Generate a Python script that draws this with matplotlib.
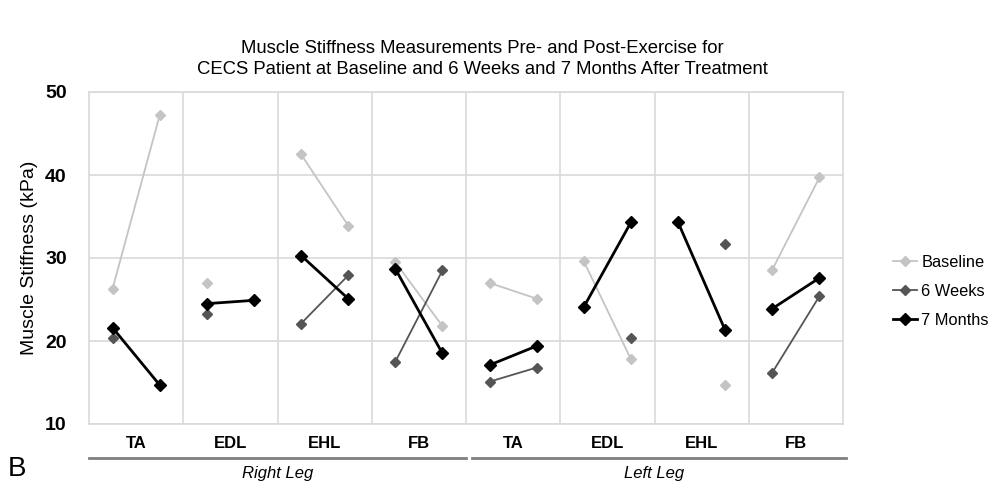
import numpy as np
import matplotlib
matplotlib.use("Agg")
import matplotlib.pyplot as plt

plt.rcParams["font.family"] = ["Liberation Sans", "DejaVu Sans"]

muscles = ["TA", "EDL", "EHL", "FB", "TA", "EDL", "EHL", "FB"]
legs = ["Right Leg", "Left Leg"]
nan = np.nan

# pre / post exercise values per muscle (kPa)
baseline_pre = [26.3, 27.0, 42.5, 29.5, 27.0, 29.6, nan, 28.6]
baseline_post = [47.2, nan, 33.9, 21.8, 25.1, 17.8, 14.7, 39.7]
weeks6_pre = [20.4, 23.3, 22.1, 17.5, 15.1, nan, nan, 16.2]
weeks6_post = [nan, nan, 27.9, 28.5, 16.8, 20.4, 31.7, 25.4]
months7_pre = [21.6, 24.5, 30.3, 28.7, 17.1, 24.1, 34.3, 23.9]
months7_post = [14.7, 24.9, 25.1, 18.5, 19.4, 34.3, 21.3, 27.6]

series = [
    ("Baseline", baseline_pre, baseline_post, "#c4c4c4", 1.3, 5),
    ("6 Weeks", weeks6_pre, weeks6_post, "#555555", 1.3, 5),
    ("7 Months", months7_pre, months7_post, "#000000", 2.0, 6.5),
]

fig = plt.figure(figsize=(9.9, 4.82), dpi=100)
ax = fig.add_axes([89 / 990, 58 / 482, 754 / 990, 332 / 482])

for name, pre, post, color, lw, ms in series:
    for i in range(len(muscles)):
        ax.plot([i + 0.25, i + 0.75], [pre[i], post[i]], color=color, lw=lw,
                marker="D", ms=ms, zorder=3)
    ax.plot([], [], color=color, lw=lw, marker="D", ms=ms, label=name)

ax.set_xlim(0, 8)
ax.set_ylim(10, 50)
ax.set_yticks([10, 20, 30, 40, 50])
ax.set_xticks(np.arange(8) + 0.5)
ax.set_xticklabels(muscles, fontsize=12, fontweight="bold")
for x in range(1, 8):
    ax.axvline(x, color="#d9d9d9", lw=1.2, zorder=1)
ax.grid(axis="y", color="#d9d9d9", lw=1.2, zorder=1)
for s in ax.spines.values():
    s.set_color("#d9d9d9")
    s.set_linewidth(1.2)
ax.tick_params(axis="both", length=0, pad=9)
ax.tick_params(axis="y", labelsize=14, pad=16)
for t in ax.get_yticklabels():
    t.set_fontweight("bold")
ax.set_ylabel("Muscle Stiffness (kPa)", fontsize=14, labelpad=5)

# leg grouping lines and labels
trans = ax.get_xaxis_transform()
ax.plot([0, 4.0], [-0.102, -0.102], transform=trans, color="#808080", lw=2, clip_on=False)
ax.plot([4.06, 8.03], [-0.102, -0.102], transform=trans, color="#808080", lw=2, clip_on=False)
ax.text(2, -0.15, legs[0], transform=trans, ha="center", va="center",
        fontsize=12, style="italic")
ax.text(6, -0.15, legs[1], transform=trans, ha="center", va="center",
        fontsize=12, style="italic")

ax.legend(loc="center left", bbox_to_anchor=(1.066, 0.40), frameon=False,
          fontsize=11.8, handlelength=1.5, handletextpad=0.25, labelspacing=0.85,
          borderaxespad=0, borderpad=0)

fig.text(0.487, 0.877,
         "Muscle Stiffness Measurements Pre- and Post-Exercise for\n"
         "CECS Patient at Baseline and 6 Weeks and 7 Months After Treatment",
         ha="center", va="center", fontsize=13.3, linespacing=1.3)
fig.text(0.008, 0.0, "B", fontsize=20, ha="left", va="bottom")

fig.savefig("out.png", dpi=100)
